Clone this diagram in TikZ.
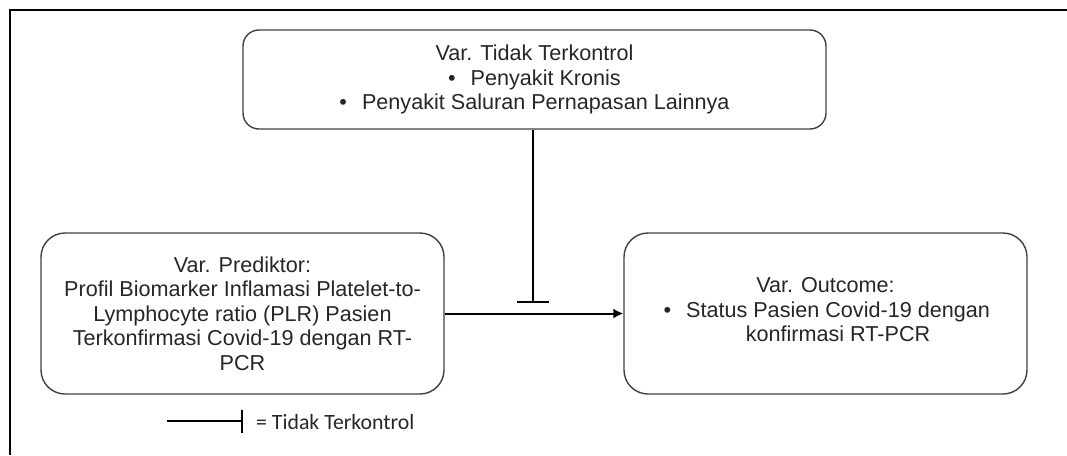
\documentclass[tikz,border=0pt]{standalone}
\usepackage{fontspec}
\setmainfont{Liberation Sans}
\newfontfamily\legendfont{Carlito}
\usetikzlibrary{arrows.meta}
\definecolor{txt}{HTML}{262626}
\definecolor{bord}{HTML}{404040}
\newcommand\padd[1]{\makebox[#1]{}}
\begin{document}
\begin{tikzpicture}[x=1pt,y=-1pt,
  box/.style={draw=bord, line width=1.4pt, inner sep=0pt, align=center,
    text=txt, font=\fontsize{21.6}{24.5}\selectfont},
  conn/.style={line width=2pt, black}]
\useasboundingbox (0,0) rectangle (1067,455);
\draw[line width=2pt] (10,455) -- (10,10) -- (1067,10);

\node[box, rounded corners=16pt, minimum width=583pt, minimum height=99pt] (unctrl) at (534.5,79.5)
  {Var. Tidak Terkontrol\\
   •\hspace{15pt}Penyakit Kronis\\
   •\hspace{15pt}Penyakit Saluran Pernapasan Lainnya};

\node[box, rounded corners=24pt, minimum width=403pt, minimum height=161pt] (pred) at (242.5,313.5)
  {Var. Prediktor:\\
   Profil Biomarker Inflamasi Platelet-to-\\
   Lymphocyte ratio (PLR) Pasien\\
   Terkonfirmasi Covid-19 dengan RT-\\
   PCR};

\node[box, rounded corners=24pt, minimum width=403pt, minimum height=161pt] (outc) at (825.5,313.5)
  {Var. Outcome:\\
   \padd{25pt}\llap{•\hspace{15pt}}\begin{tabular}[t]{@{}c@{}}Status Pasien Covid-19 dengan\\konfirmasi RT-PCR\end{tabular}};

\draw[conn, -{Latex[length=10pt,width=10pt]}] (pred.east) -- (outc.west);

\coordinate (tend) at (533,303);
\draw[line width=2.5pt, -{Bar[width=32pt]}] (unctrl.south -| tend) -- (tend);

\coordinate (l1) at (167,421);
\coordinate (l2) at (243,421);
\draw[conn, -{Bar[width=23pt]}] (l1) -- (l2);
\node[anchor=west, inner sep=0pt, text=txt, font=\legendfont\fontsize{21.8}{24}\selectfont] (lt) at (256,422) {= Tidak Terkontrol};
\end{tikzpicture}
\end{document}
